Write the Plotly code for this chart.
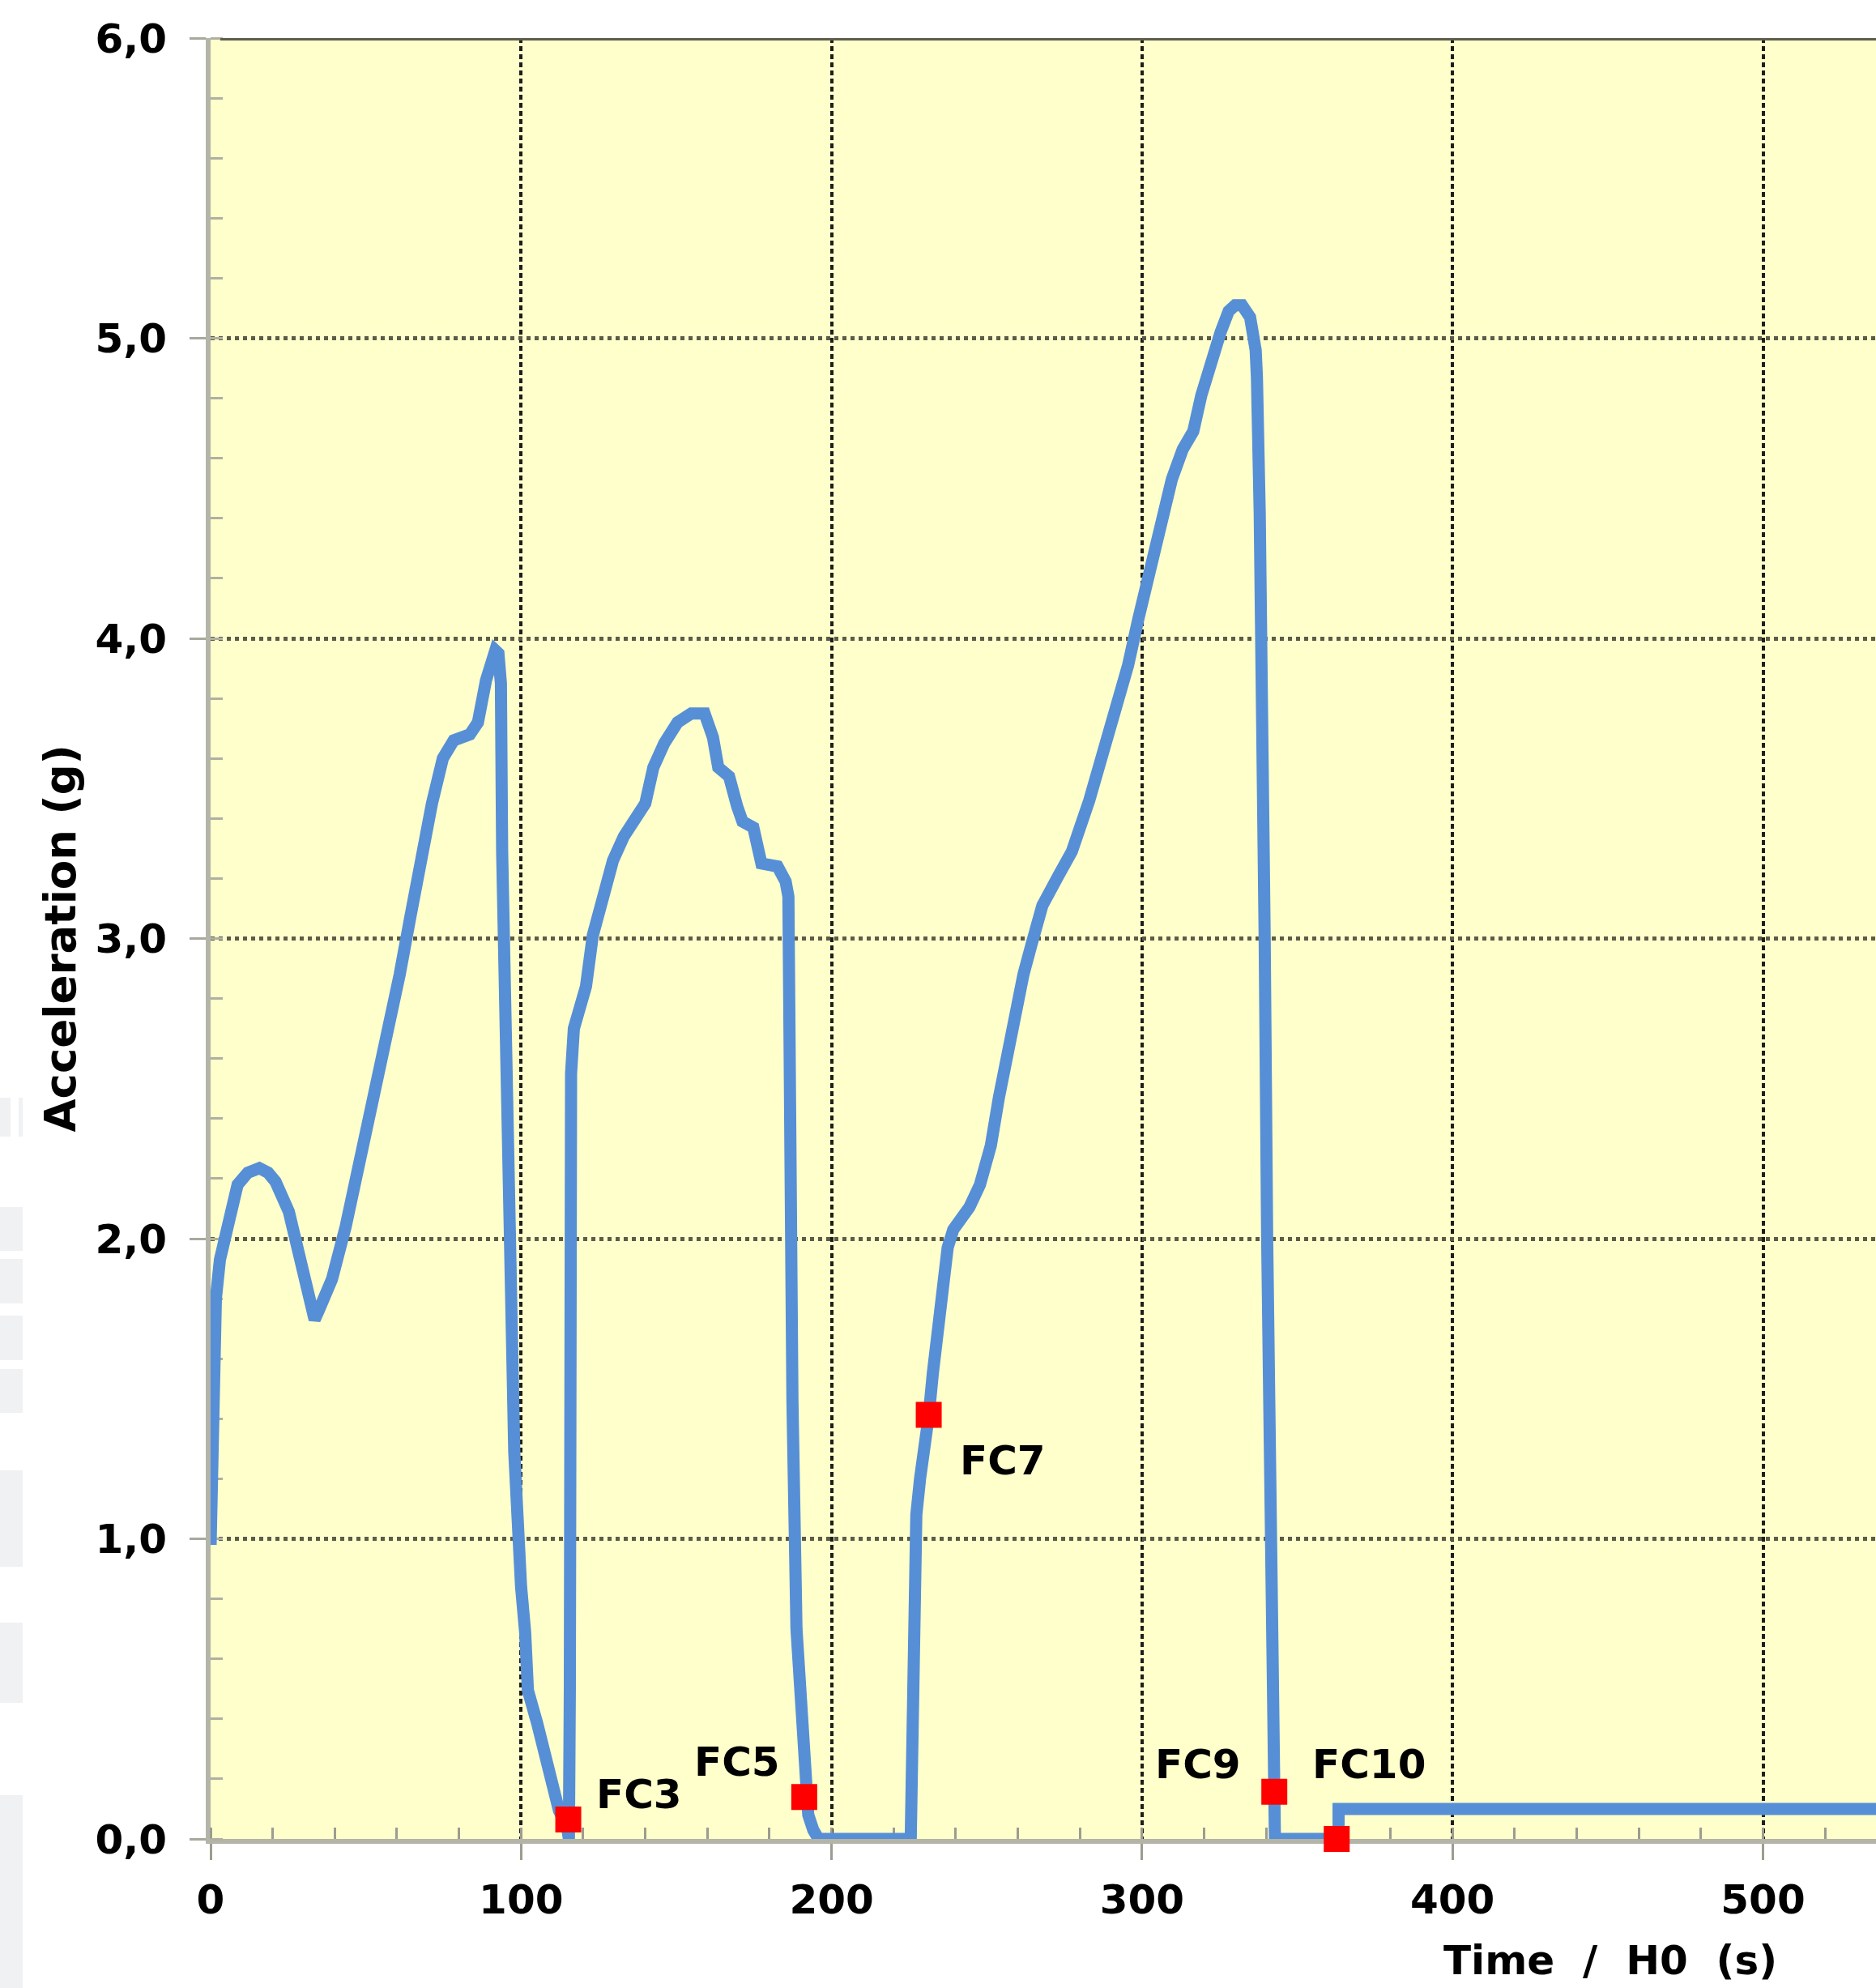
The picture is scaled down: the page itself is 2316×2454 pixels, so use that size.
import plotly.graph_objects as go

# ---- data ----
time_s = [0, 0.4, 0.9, 1.7, 3.0, 5.2, 8.7, 12.0, 15.7, 18.5, 20.9, 25.2, 28.7, 30.8, 32.2, 33.5,
          34.8, 37.0, 39.1, 43.5, 47.8, 52.2, 56.5, 60.9, 64.3, 67.8, 71.3, 74.8, 76.5, 78.3,
          83.5, 86.1, 88.7, 90.5, 91.7, 92.7, 93.5, 93.9, 94.8, 96.3, 97.2, 97.8, 98.7, 100.0,
          101.3, 102.2, 105.2, 108.7, 112.2, 114.8, 115.4, 115.7, 115.9, 116.1, 117.0, 118.5,
          120.9, 123.1, 126.1, 129.6, 133.1, 137.4, 140.0, 142.6, 146.1, 150.4, 154.8, 159.1,
          160.5, 161.8, 163.5, 167.0, 169.6, 171.3, 174.8, 177.4, 182.6, 185.2, 186.1, 186.3,
          186.9, 187.4, 188.7, 190.0, 190.8, 191.3, 192.5, 194.1, 195.8, 225.5, 226.3, 227.3,
          228.5, 230.0, 231.3, 232.6, 234.0, 235.7, 237.4, 239.2, 244.4, 247.8, 251.3, 253.9,
          256.5, 259.1, 261.8, 264.4, 267.9, 273.1, 277.4, 283.0, 287.2, 291.4, 295.5, 298.7,
          302.6, 306.1, 309.6, 313.1, 316.5, 319.1, 321.8, 325.3, 327.9, 330.0, 332.2, 334.8,
          336.6, 337.0, 337.9, 338.7, 339.5, 340.3, 341.2, 342.0, 342.6, 342.8, 363.3, 363.3,
          536.4]
accel_g = [0.98, 1.3, 1.6, 1.8, 1.93, 2.04, 2.18, 2.22, 2.235, 2.22, 2.19, 2.09, 1.93, 1.82, 1.75, 1.73,
           1.76, 1.81, 1.865, 2.04, 2.24, 2.43, 2.66, 2.88, 3.07, 3.28, 3.45, 3.60, 3.64, 3.66,
           3.68, 3.72, 3.86, 3.93, 3.96, 3.95, 3.85, 3.29, 2.66, 2.09, 1.6, 1.29, 1.0, 0.84,
           0.69, 0.495, 0.385, 0.23, 0.095, 0.04, 0.0, 0.5, 2.0, 2.55, 2.70, 2.77,
           2.84, 3.01, 3.13, 3.26, 3.34, 3.41, 3.45, 3.57, 3.65, 3.72, 3.75, 3.75,
           3.72, 3.67, 3.57, 3.54, 3.44, 3.39, 3.37, 3.25, 3.24, 3.19, 3.14, 2.83,
           2.08, 1.46, 0.70, 0.43, 0.24, 0.15, 0.08, 0.03, 0.0, 0.0, 0.9, 1.08,
           1.2, 1.3, 1.41, 1.55, 1.67, 1.85, 1.97, 2.03, 2.105, 2.18, 2.31, 2.47,
           2.62, 2.75, 2.88, 2.98, 3.11, 3.21, 3.29, 3.46, 3.61, 3.76, 3.91, 4.06,
           4.24, 4.40, 4.53, 4.63, 4.69, 4.81, 4.91, 5.02, 5.09, 5.11, 5.11, 5.07,
           4.96, 4.87, 4.42, 3.97, 3.0, 2.0, 1.0, 0.5, 0.16, 0.0, 0.0, 0.1,
           0.1]

fc_labels = ["FC3", "FC5", "FC7", "FC9", "FC10"]
fc_time = [115.2, 191.2, 231.3, 342.6, 362.7]
fc_accel = [0.065, 0.14, 1.413, 0.157, 0.0]
fc_label_time = [138.0, 169.6, 255.2, 318.0, 373.1]
fc_label_accel = [0.148, 0.256, 1.26, 0.247, 0.247]

x_tickvals = [0, 100, 200, 300, 400, 500]
x_ticktext = ["0", "100", "200", "300", "400", "500"]
y_tickvals = [0, 1, 2, 3, 4, 5, 6]
y_ticktext = ["0,0", "1,0", "2,0", "3,0", "4,0", "5,0", "6,0"]

x_title = "Time\u00a0 /\u00a0 H0\u00a0 (s)"
y_title = "Acceleration (g)"

# ---- layout geometry (pixels) ----
W, H = 2316, 2454
ML, MT, MB = 260, 47, 184
PW = W - ML
PH = H - MT - MB

def px_x(px):
    return (px - ML) / PW

def px_y(py):
    return (H - MB - py) / PH

FONT = dict(family="DejaVu Sans", size=50, color="#000000", weight="bold")
TITLE_FONT = dict(family="DejaVu Sans", size=53, color="#000000", weight="bold")

fig = go.Figure()
fig.add_trace(go.Scatter(
    x=time_s, y=accel_g, mode="lines",
    line=dict(color="#578fd6", width=15),
    hoverinfo="skip", showlegend=False,
))
fig.add_trace(go.Scatter(
    x=fc_time, y=fc_accel, mode="markers",
    marker=dict(symbol="square", size=32, color="#ff0000", line=dict(width=0)),
    cliponaxis=False, showlegend=False,
))

for lab, lx, ly in zip(fc_labels, fc_label_time, fc_label_accel):
    fig.add_annotation(x=lx, y=ly, text=lab, showarrow=False,
                       xanchor="center", yanchor="middle", font=FONT)

fig.add_annotation(xref="paper", yref="paper", x=px_x(1988), y=px_y(2420),
                   text=x_title, showarrow=False, xanchor="center", yanchor="middle",
                   font=FONT)
fig.add_annotation(xref="paper", yref="paper", x=px_x(74), y=0.5,
                   text=y_title, showarrow=False, textangle=-90,
                   xanchor="center", yanchor="middle", font=TITLE_FONT)

# top border line at 6,0
fig.add_shape(type="line", xref="paper", yref="y", x0=px_x(272), x1=1, y0=6, y1=6,
              line=dict(color="#5e5e4c", width=6), layer="above")

# faint grey fragments at the left edge of the image
left_bits = [(0, 13, 1355, 1403), (23, 28, 1355, 1403), (0, 28, 1490, 1544),
             (0, 28, 1554, 1609), (0, 28, 1624, 1679), (0, 28, 1690, 1744),
             (0, 28, 1815, 1934), (0, 28, 2003, 2102), (0, 28, 2216, 2454)]
for x0, x1, y0, y1 in left_bits:
    fig.add_shape(type="rect", xref="paper", yref="paper",
                  x0=px_x(x0), x1=px_x(x1), y0=px_y(y1), y1=px_y(y0),
                  line=dict(width=0), fillcolor="#f0f1f3", layer="below")

fig.update_layout(
    width=W, height=H,
    margin=dict(l=ML, r=0, t=MT, b=MB, pad=0),
    paper_bgcolor="#ffffff", plot_bgcolor="#ffffcc",
    showlegend=False,
    font=FONT,
)
fig.update_xaxes(
    range=[0, (W - ML) / 3.833], tickvals=x_tickvals, ticktext=x_ticktext,
    ticks="outside", ticklen=20, tickwidth=3, tickcolor="#9c9c90",
    minor=dict(dtick=20, tick0=0, ticks="inside", ticklen=14, tickwidth=3,
               tickcolor="#9c9c90", showgrid=False),
    showline=True, linecolor="#b4b4a8", linewidth=6,
    showgrid=True, gridcolor="#1e1e18", gridwidth=4, griddash="6px,4px",
    zeroline=False, tickfont=FONT, ticklabelstandoff=6,
    layer="below traces", fixedrange=True,
)
fig.update_yaxes(
    range=[0, 6], tickvals=y_tickvals, ticktext=y_ticktext,
    ticks="outside", ticklen=20, tickwidth=3, tickcolor="#a8a89c",
    minor=dict(dtick=0.2, tick0=0, ticks="inside", ticklen=15, tickwidth=3,
               tickcolor="#b0b0a0", showgrid=False),
    showline=True, linecolor="#b4b4a8", linewidth=6,
    showgrid=True, gridcolor="#5c5c48", gridwidth=4.5, griddash="5px,5px",
    zeroline=False, tickfont=FONT, ticklabelstandoff=18,
    layer="below traces", fixedrange=True,
)

fig.write_html("out.html")
